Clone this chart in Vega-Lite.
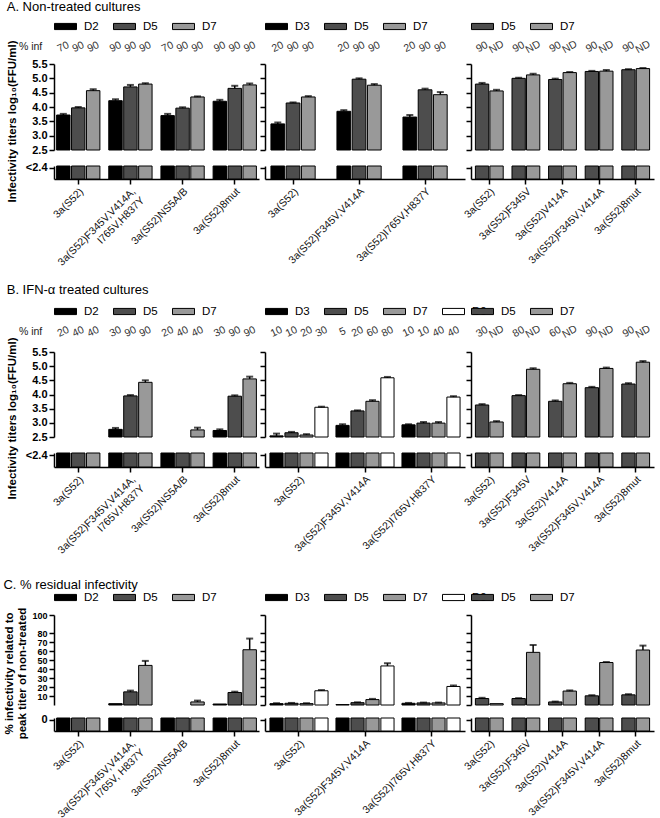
{
 "$schema": "https://vega.github.io/schema/vega-lite/v6.json",
 "padding": {"left": 3, "top": 1, "right": 2, "bottom": 0},
 "columns": 3,
 "bounds": "flush",
 "spacing": {"row": 148, "column": 6},
 "resolve": {"scale": {"fill": "independent", "x": "independent", "y": "independent", "xOffset": "independent"}, "legend": {"fill": "independent"}},
 "config": {
  "font": "Liberation Sans",
  "view": {"stroke": null},
  "axis": {"domainColor": "#000", "domainWidth": 1.5, "tickColor": "#000", "tickWidth": 1.5, "tickSize": 5, "labelColor": "#000", "titleColor": "#000", "grid": false, "labelPadding": 2},
  "axisX": {"labelFontSize": 10.5, "labelAngle": -45, "labelOverlap": false, "title": null, "labelColor": "#111", "labelPadding": 2},
  "axisY": {"labelFontWeight": "bold", "labelFontSize": 11, "titleFontWeight": "bold", "titleFontSize": 11.5, "labelOverlap": false},
  "legend": {"orient": "top", "direction": "horizontal", "title": null, "symbolType": "M-1,-0.28L1,-0.28L1,0.28L-1,0.28Z", "symbolSize": 484, "symbolStrokeColor": "#000", "symbolStrokeWidth": 1, "symbolOpacity": 1, "labelFontSize": 11.5, "labelOffset": 7, "columnPadding": 12, "offset": 8, "padding": 0},
  "title": {"anchor": "start", "frame": "bounds", "fontSize": 13, "fontWeight": "normal", "offset": 1, "color": "#000"}
 },
 "concat": [
  {
   "width": 205, "height": 140,
   "title": {"text": "A. Non-treated cultures"},
   "data": {"values": [
    {"g": "3a(S52)", "d": "D2", "v": 3.72, "hi": 3.76, "pct": "70"},
    {"g": "3a(S52)", "d": "D5", "v": 3.97, "hi": 4.0, "pct": "90"},
    {"g": "3a(S52)", "d": "D7", "v": 4.57, "hi": 4.62, "pct": "90"},
    {"g": "3a(S52)F345V,V414A,I765V,H837Y", "d": "D2", "v": 4.22, "hi": 4.27, "pct": "90"},
    {"g": "3a(S52)F345V,V414A,I765V,H837Y", "d": "D5", "v": 4.7, "hi": 4.77, "pct": "90"},
    {"g": "3a(S52)F345V,V414A,I765V,H837Y", "d": "D7", "v": 4.8, "hi": 4.83, "pct": "90"},
    {"g": "3a(S52)NS5A/B", "d": "D2", "v": 3.7, "hi": 3.76, "pct": "70"},
    {"g": "3a(S52)NS5A/B", "d": "D5", "v": 3.96, "hi": 3.99, "pct": "90"},
    {"g": "3a(S52)NS5A/B", "d": "D7", "v": 4.35, "hi": 4.37, "pct": "90"},
    {"g": "3a(S52)8mut", "d": "D2", "v": 4.2, "hi": 4.25, "pct": "90"},
    {"g": "3a(S52)8mut", "d": "D5", "v": 4.65, "hi": 4.74, "pct": "90"},
    {"g": "3a(S52)8mut", "d": "D7", "v": 4.77, "hi": 4.82, "pct": "90"}
   ]},
   "encoding": {
    "x": {"field": "g", "type": "nominal", "scale": {"domain": ["3a(S52)", "3a(S52)F345V,V414A,I765V,H837Y", "3a(S52)NS5A/B", "3a(S52)8mut"], "paddingInner": 0.17, "paddingOuter": 0.05}, "axis": {"labelExpr": "datum.value == '3a(S52)F345V,V414A,I765V,H837Y' ? ['3a(S52)F345V,V414A,', 'I765V,H837Y'] : datum.label"}},
    "xOffset": {"field": "d", "type": "nominal", "scale": {"domain": ["D2", "D5", "D7"], "paddingInner": 0.1}}
   },
   "layer": [
    {"layer": [
     {"transform": [{"filter": "datum.v != null"}], "mark": {"type": "bar", "stroke": "#000", "strokeWidth": 1},
      "encoding": {"y": {"field": "v", "type": "quantitative", "scale": {"domain": [2.5, 5.5], "range": [111, 25], "nice": false, "zero": false}, "axis": {"values": [2.5, 3, 3.5, 4, 4.5, 5, 5.5], "tickCount": 20, "format": ".1f", "labelOverlap": false, "title": "Infectivity titers log₁₀(FFU/ml)", "titleY": 82, "titlePadding": 14}}, "y2": {"datum": 2.5},
       "fill": {"field": "d", "type": "nominal", "scale": {"domain": ["D2", "D5", "D7"], "range": ["#000000", "#4d4d4d", "#999999"]}, "legend": {"offset": 7}}}},
     {"transform": [{"filter": "datum.hi != null"}], "mark": {"type": "rule", "color": "#000", "strokeWidth": 1.5}, "encoding": {"y": {"field": "v", "type": "quantitative"}, "y2": {"field": "hi"}}},
     {"transform": [{"filter": "datum.hi != null"}], "mark": {"type": "tick", "color": "#000", "thickness": 2, "size": 7}, "encoding": {"y": {"field": "hi", "type": "quantitative"}}},
     {"mark": {"type": "text", "angle": -25, "fontSize": 10.5, "color": "#333"}, "encoding": {"y": {"datum": 6.09, "type": "quantitative"}, "text": {"field": "pct"}}},
     {"data": {"values": [{"t": "% inf"}]}, "mark": {"type": "text", "align": "right", "dx": -36, "fontSize": 10.5, "color": "#222"}, "encoding": {"x": {"datum": "3a(S52)"}, "xOffset": {"datum": "D5"}, "y": {"datum": 6.09, "type": "quantitative"}, "text": {"field": "t"}}}
    ]},
    {"mark": {"type": "bar", "stroke": "#000", "strokeWidth": 1},
     "encoding": {"y": {"datum": 1, "type": "quantitative", "scale": {"domain": [0, 1], "range": [140, 127]}, "axis": {"values": [0.85], "labelExpr": "'<2.4'", "title": null, "orient": "left"}}, "y2": {"datum": 0},
      "fill": {"field": "d", "type": "nominal", "scale": {"domain": ["D2", "D5", "D7"], "range": ["#000000", "#4d4d4d", "#999999"]}, "legend": {"offset": 7}}}}
   ],
   "resolve": {"scale": {"y": "independent"}, "axis": {"y": "independent"}}
  },
  {
   "width": 200, "height": 140,
   "data": {"values": [
    {"g": "3a(S52)", "d": "D3", "v": 3.41, "hi": 3.46, "pct": "20"},
    {"g": "3a(S52)", "d": "D5", "v": 4.14, "hi": 4.16, "pct": "90"},
    {"g": "3a(S52)", "d": "D7", "v": 4.35, "hi": 4.38, "pct": "90"},
    {"g": "3a(S52)F345V,V414A", "d": "D3", "v": 3.85, "hi": 3.89, "pct": "20"},
    {"g": "3a(S52)F345V,V414A", "d": "D5", "v": 4.97, "hi": 5.0, "pct": "90"},
    {"g": "3a(S52)F345V,V414A", "d": "D7", "v": 4.76, "hi": 4.8, "pct": "90"},
    {"g": "3a(S52)I765V,H837Y", "d": "D3", "v": 3.65, "hi": 3.72, "pct": "20"},
    {"g": "3a(S52)I765V,H837Y", "d": "D5", "v": 4.6, "hi": 4.64, "pct": "90"},
    {"g": "3a(S52)I765V,H837Y", "d": "D7", "v": 4.43, "hi": 4.52, "pct": "90"}
   ]},
   "encoding": {
    "x": {"field": "g", "type": "nominal", "scale": {"domain": ["3a(S52)", "3a(S52)F345V,V414A", "3a(S52)I765V,H837Y"], "paddingInner": 0.33, "paddingOuter": 0.18, "align": 0.25}},
    "xOffset": {"field": "d", "type": "nominal", "scale": {"domain": ["D3", "D5", "D7"], "paddingInner": 0.1}}
   },
   "layer": [
    {"layer": [
     {"transform": [{"filter": "datum.v != null"}], "mark": {"type": "bar", "stroke": "#000", "strokeWidth": 1},
      "encoding": {"y": {"field": "v", "type": "quantitative", "scale": {"domain": [2.5, 5.5], "range": [111, 25], "nice": false, "zero": false}, "axis": {"values": [2.5, 3, 3.5, 4, 4.5, 5, 5.5], "tickCount": 20, "labels": false, "title": null}}, "y2": {"datum": 2.5},
       "fill": {"field": "d", "type": "nominal", "scale": {"domain": ["D3", "D5", "D7"], "range": ["#000000", "#4d4d4d", "#999999"]}, "legend": {"offset": 7}}}},
     {"transform": [{"filter": "datum.hi != null"}], "mark": {"type": "rule", "color": "#000", "strokeWidth": 1.5}, "encoding": {"y": {"field": "v", "type": "quantitative"}, "y2": {"field": "hi"}}},
     {"transform": [{"filter": "datum.hi != null"}], "mark": {"type": "tick", "color": "#000", "thickness": 2, "size": 7}, "encoding": {"y": {"field": "hi", "type": "quantitative"}}},
     {"mark": {"type": "text", "angle": -25, "fontSize": 10.5, "color": "#333"}, "encoding": {"y": {"datum": 6.09, "type": "quantitative"}, "text": {"field": "pct"}}}
    ]},
    {"mark": {"type": "bar", "stroke": "#000", "strokeWidth": 1},
     "encoding": {"y": {"datum": 1, "type": "quantitative", "scale": {"domain": [0, 1], "range": [140, 127]}, "axis": {"values": [0.85], "labels": false, "title": null, "orient": "left"}}, "y2": {"datum": 0},
      "fill": {"field": "d", "type": "nominal", "scale": {"domain": ["D3", "D5", "D7"], "range": ["#000000", "#4d4d4d", "#999999"]}, "legend": {"offset": 7}}}}
   ],
   "resolve": {"scale": {"y": "independent"}, "axis": {"y": "independent"}}
  },
  {
   "width": 183, "height": 140,
   "data": {"values": [
    {"g": "3a(S52)", "d": "D5", "v": 4.8, "hi": 4.84, "pct": "90"},
    {"g": "3a(S52)", "d": "D7", "v": 4.56, "hi": 4.6, "pct": "ND"},
    {"g": "3a(S52)F345V", "d": "D5", "v": 5.0, "hi": 5.02, "pct": "90"},
    {"g": "3a(S52)F345V", "d": "D7", "v": 5.12, "hi": 5.16, "pct": "ND"},
    {"g": "3a(S52)V414A", "d": "D5", "v": 4.96, "hi": 4.99, "pct": "90"},
    {"g": "3a(S52)V414A", "d": "D7", "v": 5.2, "hi": 5.22, "pct": "ND"},
    {"g": "3a(S52)F345V,V414A", "d": "D5", "v": 5.24, "hi": 5.26, "pct": "90"},
    {"g": "3a(S52)F345V,V414A", "d": "D7", "v": 5.25, "hi": 5.29, "pct": "ND"},
    {"g": "3a(S52)8mut", "d": "D5", "v": 5.3, "hi": 5.32, "pct": "90"},
    {"g": "3a(S52)8mut", "d": "D7", "v": 5.34, "hi": 5.36, "pct": "ND"}
   ]},
   "encoding": {
    "x": {"field": "g", "type": "nominal", "scale": {"domain": ["3a(S52)", "3a(S52)F345V", "3a(S52)V414A", "3a(S52)F345V,V414A", "3a(S52)8mut"], "paddingInner": 0.24, "paddingOuter": 0.12}},
    "xOffset": {"field": "d", "type": "nominal", "scale": {"domain": ["D5", "D7"], "paddingInner": 0.08}}
   },
   "layer": [
    {"layer": [
     {"transform": [{"filter": "datum.v != null"}], "mark": {"type": "bar", "stroke": "#000", "strokeWidth": 1},
      "encoding": {"y": {"field": "v", "type": "quantitative", "scale": {"domain": [2.5, 5.5], "range": [111, 25], "nice": false, "zero": false}, "axis": {"values": [2.5, 3, 3.5, 4, 4.5, 5, 5.5], "tickCount": 20, "labels": false, "title": null}}, "y2": {"datum": 2.5},
       "fill": {"field": "d", "type": "nominal", "scale": {"domain": ["D5", "D7"], "range": ["#4d4d4d", "#999999"]}, "legend": {"offset": 7}}}},
     {"transform": [{"filter": "datum.hi != null"}], "mark": {"type": "rule", "color": "#000", "strokeWidth": 1.5}, "encoding": {"y": {"field": "v", "type": "quantitative"}, "y2": {"field": "hi"}}},
     {"transform": [{"filter": "datum.hi != null"}], "mark": {"type": "tick", "color": "#000", "thickness": 2, "size": 7}, "encoding": {"y": {"field": "hi", "type": "quantitative"}}},
     {"mark": {"type": "text", "angle": -30, "fontSize": 10.5, "color": "#333"}, "encoding": {"y": {"datum": 6.09, "type": "quantitative"}, "text": {"field": "pct"}}}
    ]},
    {"mark": {"type": "bar", "stroke": "#000", "strokeWidth": 1},
     "encoding": {"y": {"datum": 1, "type": "quantitative", "scale": {"domain": [0, 1], "range": [140, 127]}, "axis": {"values": [0.85], "labels": false, "title": null, "orient": "left"}}, "y2": {"datum": 0},
      "fill": {"field": "d", "type": "nominal", "scale": {"domain": ["D5", "D7"], "range": ["#4d4d4d", "#999999"]}, "legend": {"offset": 7}}}}
   ],
   "resolve": {"scale": {"y": "independent"}, "axis": {"y": "independent"}}
  },
  {
   "width": 205, "height": 140,
   "title": {"text": "B. IFN-α treated cultures", "offset": 3},
   "data": {"values": [
    {"g": "3a(S52)", "d": "D2", "v": null, "hi": null, "pct": "20"},
    {"g": "3a(S52)", "d": "D5", "v": null, "hi": null, "pct": "40"},
    {"g": "3a(S52)", "d": "D7", "v": null, "hi": null, "pct": "40"},
    {"g": "3a(S52)F345V,V414A,I765V,H837Y", "d": "D2", "v": 2.77, "hi": 2.82, "pct": "30"},
    {"g": "3a(S52)F345V,V414A,I765V,H837Y", "d": "D5", "v": 3.95, "hi": 3.98, "pct": "90"},
    {"g": "3a(S52)F345V,V414A,I765V,H837Y", "d": "D7", "v": 4.43, "hi": 4.5, "pct": "90"},
    {"g": "3a(S52)NS5A/B", "d": "D2", "v": null, "hi": null, "pct": "20"},
    {"g": "3a(S52)NS5A/B", "d": "D5", "v": null, "hi": null, "pct": "40"},
    {"g": "3a(S52)NS5A/B", "d": "D7", "v": 2.75, "hi": 2.83, "pct": "40"},
    {"g": "3a(S52)8mut", "d": "D2", "v": 2.73, "hi": 2.77, "pct": "30"},
    {"g": "3a(S52)8mut", "d": "D5", "v": 3.94, "hi": 3.97, "pct": "90"},
    {"g": "3a(S52)8mut", "d": "D7", "v": 4.55, "hi": 4.63, "pct": "90"}
   ]},
   "encoding": {
    "x": {"field": "g", "type": "nominal", "scale": {"domain": ["3a(S52)", "3a(S52)F345V,V414A,I765V,H837Y", "3a(S52)NS5A/B", "3a(S52)8mut"], "paddingInner": 0.17, "paddingOuter": 0.05}, "axis": {"labelExpr": "datum.value == '3a(S52)F345V,V414A,I765V,H837Y' ? ['3a(S52)F345V,V414A,', 'I765V,H837Y'] : datum.label"}},
    "xOffset": {"field": "d", "type": "nominal", "scale": {"domain": ["D2", "D5", "D7"], "paddingInner": 0.1}}
   },
   "layer": [
    {"layer": [
     {"transform": [{"filter": "datum.v != null"}], "mark": {"type": "bar", "stroke": "#000", "strokeWidth": 1},
      "encoding": {"y": {"field": "v", "type": "quantitative", "scale": {"domain": [2.5, 5.5], "range": [110, 25], "nice": false, "zero": false}, "axis": {"values": [2.5, 3, 3.5, 4, 4.5, 5, 5.5], "tickCount": 20, "format": ".1f", "labelOverlap": false, "title": "Infectivity titers log₁₀(FFU/ml)", "titleY": 91, "titlePadding": 14}}, "y2": {"datum": 2.5},
       "fill": {"field": "d", "type": "nominal", "scale": {"domain": ["D2", "D5", "D7"], "range": ["#000000", "#4d4d4d", "#999999"]}, "legend": {"offset": 10}}}},
     {"transform": [{"filter": "datum.hi != null"}], "mark": {"type": "rule", "color": "#000", "strokeWidth": 1.5}, "encoding": {"y": {"field": "v", "type": "quantitative"}, "y2": {"field": "hi"}}},
     {"transform": [{"filter": "datum.hi != null"}], "mark": {"type": "tick", "color": "#000", "thickness": 2, "size": 7}, "encoding": {"y": {"field": "hi", "type": "quantitative"}}},
     {"mark": {"type": "text", "angle": -25, "fontSize": 10.5, "color": "#333"}, "encoding": {"y": {"datum": 6.21, "type": "quantitative"}, "text": {"field": "pct"}}},
     {"data": {"values": [{"t": "% inf"}]}, "mark": {"type": "text", "align": "right", "dx": -36, "fontSize": 10.5, "color": "#222"}, "encoding": {"x": {"datum": "3a(S52)"}, "xOffset": {"datum": "D5"}, "y": {"datum": 6.21, "type": "quantitative"}, "text": {"field": "t"}}}
    ]},
    {"mark": {"type": "bar", "stroke": "#000", "strokeWidth": 1},
     "encoding": {"y": {"datum": 1, "type": "quantitative", "scale": {"domain": [0, 1], "range": [140, 126]}, "axis": {"values": [0.85], "labelExpr": "'<2.4'", "title": null, "orient": "left"}}, "y2": {"datum": 0},
      "fill": {"field": "d", "type": "nominal", "scale": {"domain": ["D2", "D5", "D7"], "range": ["#000000", "#4d4d4d", "#999999"]}, "legend": {"offset": 10}}}}
   ],
   "resolve": {"scale": {"y": "independent"}, "axis": {"y": "independent"}}
  },
  {
   "width": 200, "height": 140,
   "data": {"values": [
    {"g": "3a(S52)", "d": "D3", "v": 2.54, "hi": 2.62, "pct": "10"},
    {"g": "3a(S52)", "d": "D5", "v": 2.65, "hi": 2.68, "pct": "10"},
    {"g": "3a(S52)", "d": "D7", "v": 2.57, "hi": 2.6, "pct": "20"},
    {"g": "3a(S52)", "d": "D9", "v": 3.55, "hi": 3.57, "pct": "30"},
    {"g": "3a(S52)F345V,V414A", "d": "D3", "v": 2.91, "hi": 2.95, "pct": "5"},
    {"g": "3a(S52)F345V,V414A", "d": "D5", "v": 3.42, "hi": 3.44, "pct": "20"},
    {"g": "3a(S52)F345V,V414A", "d": "D7", "v": 3.76, "hi": 3.8, "pct": "60"},
    {"g": "3a(S52)F345V,V414A", "d": "D9", "v": 4.59, "hi": 4.62, "pct": "80"},
    {"g": "3a(S52)I765V,H837Y", "d": "D3", "v": 2.93, "hi": 2.95, "pct": "10"},
    {"g": "3a(S52)I765V,H837Y", "d": "D5", "v": 2.99, "hi": 3.03, "pct": "10"},
    {"g": "3a(S52)I765V,H837Y", "d": "D7", "v": 2.99, "hi": 3.03, "pct": "40"},
    {"g": "3a(S52)I765V,H837Y", "d": "D9", "v": 3.91, "hi": 3.94, "pct": "40"}
   ]},
   "encoding": {
    "x": {"field": "g", "type": "nominal", "scale": {"domain": ["3a(S52)", "3a(S52)F345V,V414A", "3a(S52)I765V,H837Y"], "paddingInner": 0.12, "paddingOuter": 0.075, "align": 0.5}},
    "xOffset": {"field": "d", "type": "nominal", "scale": {"domain": ["D3", "D5", "D7", "D9"], "paddingInner": 0.12}}
   },
   "layer": [
    {"layer": [
     {"transform": [{"filter": "datum.v != null"}], "mark": {"type": "bar", "stroke": "#000", "strokeWidth": 1},
      "encoding": {"y": {"field": "v", "type": "quantitative", "scale": {"domain": [2.5, 5.5], "range": [110, 25], "nice": false, "zero": false}, "axis": {"values": [2.5, 3, 3.5, 4, 4.5, 5, 5.5], "tickCount": 20, "labels": false, "title": null}}, "y2": {"datum": 2.5},
       "fill": {"field": "d", "type": "nominal", "scale": {"domain": ["D3", "D5", "D7", "D9"], "range": ["#000000", "#4d4d4d", "#999999", "#ffffff"]}, "legend": {"offset": 10}}}},
     {"transform": [{"filter": "datum.hi != null"}], "mark": {"type": "rule", "color": "#000", "strokeWidth": 1.5}, "encoding": {"y": {"field": "v", "type": "quantitative"}, "y2": {"field": "hi"}}},
     {"transform": [{"filter": "datum.hi != null"}], "mark": {"type": "tick", "color": "#000", "thickness": 2, "size": 7}, "encoding": {"y": {"field": "hi", "type": "quantitative"}}},
     {"mark": {"type": "text", "angle": -25, "fontSize": 10.5, "color": "#333"}, "encoding": {"y": {"datum": 6.21, "type": "quantitative"}, "text": {"field": "pct"}}}
    ]},
    {"mark": {"type": "bar", "stroke": "#000", "strokeWidth": 1},
     "encoding": {"y": {"datum": 1, "type": "quantitative", "scale": {"domain": [0, 1], "range": [140, 126]}, "axis": {"values": [0.85], "labels": false, "title": null, "orient": "left"}}, "y2": {"datum": 0},
      "fill": {"field": "d", "type": "nominal", "scale": {"domain": ["D3", "D5", "D7", "D9"], "range": ["#000000", "#4d4d4d", "#999999", "#ffffff"]}, "legend": {"offset": 10}}}}
   ],
   "resolve": {"scale": {"y": "independent"}, "axis": {"y": "independent"}}
  },
  {
   "width": 183, "height": 140,
   "data": {"values": [
    {"g": "3a(S52)", "d": "D5", "v": 3.63, "hi": 3.66, "pct": "30"},
    {"g": "3a(S52)", "d": "D7", "v": 3.03, "hi": 3.06, "pct": "ND"},
    {"g": "3a(S52)F345V", "d": "D5", "v": 3.96, "hi": 3.98, "pct": "80"},
    {"g": "3a(S52)F345V", "d": "D7", "v": 4.89, "hi": 4.93, "pct": "ND"},
    {"g": "3a(S52)V414A", "d": "D5", "v": 3.76, "hi": 3.79, "pct": "60"},
    {"g": "3a(S52)V414A", "d": "D7", "v": 4.38, "hi": 4.41, "pct": "ND"},
    {"g": "3a(S52)F345V,V414A", "d": "D5", "v": 4.24, "hi": 4.27, "pct": "90"},
    {"g": "3a(S52)F345V,V414A", "d": "D7", "v": 4.92, "hi": 4.95, "pct": "ND"},
    {"g": "3a(S52)8mut", "d": "D5", "v": 4.37, "hi": 4.4, "pct": "90"},
    {"g": "3a(S52)8mut", "d": "D7", "v": 5.14, "hi": 5.18, "pct": "ND"}
   ]},
   "encoding": {
    "x": {"field": "g", "type": "nominal", "scale": {"domain": ["3a(S52)", "3a(S52)F345V", "3a(S52)V414A", "3a(S52)F345V,V414A", "3a(S52)8mut"], "paddingInner": 0.24, "paddingOuter": 0.12}},
    "xOffset": {"field": "d", "type": "nominal", "scale": {"domain": ["D5", "D7"], "paddingInner": 0.08}}
   },
   "layer": [
    {"layer": [
     {"transform": [{"filter": "datum.v != null"}], "mark": {"type": "bar", "stroke": "#000", "strokeWidth": 1},
      "encoding": {"y": {"field": "v", "type": "quantitative", "scale": {"domain": [2.5, 5.5], "range": [110, 25], "nice": false, "zero": false}, "axis": {"values": [2.5, 3, 3.5, 4, 4.5, 5, 5.5], "tickCount": 20, "labels": false, "title": null}}, "y2": {"datum": 2.5},
       "fill": {"field": "d", "type": "nominal", "scale": {"domain": ["D5", "D7"], "range": ["#4d4d4d", "#999999"]}, "legend": {"offset": 10}}}},
     {"transform": [{"filter": "datum.hi != null"}], "mark": {"type": "rule", "color": "#000", "strokeWidth": 1.5}, "encoding": {"y": {"field": "v", "type": "quantitative"}, "y2": {"field": "hi"}}},
     {"transform": [{"filter": "datum.hi != null"}], "mark": {"type": "tick", "color": "#000", "thickness": 2, "size": 7}, "encoding": {"y": {"field": "hi", "type": "quantitative"}}},
     {"mark": {"type": "text", "angle": -30, "fontSize": 10.5, "color": "#333"}, "encoding": {"y": {"datum": 6.21, "type": "quantitative"}, "text": {"field": "pct"}}}
    ]},
    {"mark": {"type": "bar", "stroke": "#000", "strokeWidth": 1},
     "encoding": {"y": {"datum": 1, "type": "quantitative", "scale": {"domain": [0, 1], "range": [140, 126]}, "axis": {"values": [0.85], "labels": false, "title": null, "orient": "left"}}, "y2": {"datum": 0},
      "fill": {"field": "d", "type": "nominal", "scale": {"domain": ["D5", "D7"], "range": ["#4d4d4d", "#999999"]}, "legend": {"offset": 10}}}}
   ],
   "resolve": {"scale": {"y": "independent"}, "axis": {"y": "independent"}}
  },
  {
   "width": 205, "height": 116,
   "title": {"text": "C. % residual infectivity", "offset": -6},
   "data": {"values": [
    {"g": "3a(S52)", "d": "D2", "v": null, "hi": null},
    {"g": "3a(S52)", "d": "D5", "v": null, "hi": null},
    {"g": "3a(S52)", "d": "D7", "v": null, "hi": null},
    {"g": "3a(S52)F345V,V414A,I765V,H837Y", "d": "D2", "v": 1.5, "hi": null},
    {"g": "3a(S52)F345V,V414A,I765V,H837Y", "d": "D5", "v": 14.6, "hi": 16},
    {"g": "3a(S52)F345V,V414A,I765V,H837Y", "d": "D7", "v": 44, "hi": 49},
    {"g": "3a(S52)NS5A/B", "d": "D2", "v": null, "hi": null},
    {"g": "3a(S52)NS5A/B", "d": "D5", "v": null, "hi": null},
    {"g": "3a(S52)NS5A/B", "d": "D7", "v": 3.4, "hi": 4.9},
    {"g": "3a(S52)8mut", "d": "D2", "v": 1.1, "hi": null},
    {"g": "3a(S52)8mut", "d": "D5", "v": 13.9, "hi": 14.8},
    {"g": "3a(S52)8mut", "d": "D7", "v": 61.4, "hi": 73.8}
   ]},
   "encoding": {
    "x": {"field": "g", "type": "nominal", "scale": {"domain": ["3a(S52)", "3a(S52)F345V,V414A,I765V,H837Y", "3a(S52)NS5A/B", "3a(S52)8mut"], "paddingInner": 0.17, "paddingOuter": 0.05}, "axis": {"labelExpr": "datum.value == '3a(S52)F345V,V414A,I765V,H837Y' ? ['3a(S52)F345V,V414A,', 'I765V, H837Y'] : datum.label"}},
    "xOffset": {"field": "d", "type": "nominal", "scale": {"domain": ["D2", "D5", "D7"], "paddingInner": 0.1}}
   },
   "layer": [
    {"layer": [
     {"transform": [{"filter": "datum.v != null"}], "mark": {"type": "bar", "stroke": "#000", "strokeWidth": 1},
      "encoding": {"y": {"field": "v", "type": "quantitative", "scale": {"domain": [0, 100], "range": [90, 0], "nice": false, "zero": false}, "axis": {"values": [10, 20, 30, 40, 50, 60, 70, 80, 100], "tickCount": 20, "labelOverlap": false, "labelFontSize": 9, "title": ["% infectivity related to", "peak titer of non-treated"], "titleY": 58, "titlePadding": 4}}, "y2": {"datum": 0},
       "fill": {"field": "d", "type": "nominal", "scale": {"domain": ["D2", "D5", "D7"], "range": ["#000000", "#4d4d4d", "#999999"]}, "legend": {"offset": 12}}}},
     {"transform": [{"filter": "datum.hi != null"}], "mark": {"type": "rule", "color": "#000", "strokeWidth": 1.5}, "encoding": {"y": {"field": "v", "type": "quantitative"}, "y2": {"field": "hi"}}},
     {"transform": [{"filter": "datum.hi != null"}], "mark": {"type": "tick", "color": "#000", "thickness": 2, "size": 7}, "encoding": {"y": {"field": "hi", "type": "quantitative"}}}
    ]},
    {"mark": {"type": "bar", "stroke": "#000", "strokeWidth": 1},
     "encoding": {"y": {"datum": 1, "type": "quantitative", "scale": {"domain": [0, 1], "range": [116, 103]}, "axis": {"values": [0.85], "labelExpr": "'0'", "title": null, "orient": "left"}}, "y2": {"datum": 0},
      "fill": {"field": "d", "type": "nominal", "scale": {"domain": ["D2", "D5", "D7"], "range": ["#000000", "#4d4d4d", "#999999"]}, "legend": {"offset": 12}}}}
   ],
   "resolve": {"scale": {"y": "independent"}, "axis": {"y": "independent"}}
  },
  {
   "width": 200, "height": 116,
   "data": {"values": [
    {"g": "3a(S52)", "d": "D3", "v": 1.5, "hi": 2},
    {"g": "3a(S52)", "d": "D5", "v": 1.9, "hi": 2.3},
    {"g": "3a(S52)", "d": "D7", "v": 1.5, "hi": 2},
    {"g": "3a(S52)", "d": "D9", "v": 15.8, "hi": 16.6},
    {"g": "3a(S52)F345V,V414A", "d": "D3", "v": 0.5, "hi": null},
    {"g": "3a(S52)F345V,V414A", "d": "D5", "v": 2.6, "hi": 3},
    {"g": "3a(S52)F345V,V414A", "d": "D7", "v": 6, "hi": 6.8},
    {"g": "3a(S52)F345V,V414A", "d": "D9", "v": 43.4, "hi": 46.4},
    {"g": "3a(S52)I765V,H837Y", "d": "D3", "v": 1.9, "hi": 2.3},
    {"g": "3a(S52)I765V,H837Y", "d": "D5", "v": 2.3, "hi": 2.7},
    {"g": "3a(S52)I765V,H837Y", "d": "D7", "v": 2.3, "hi": 2.7},
    {"g": "3a(S52)I765V,H837Y", "d": "D9", "v": 20.6, "hi": 21.7}
   ]},
   "encoding": {
    "x": {"field": "g", "type": "nominal", "scale": {"domain": ["3a(S52)", "3a(S52)F345V,V414A", "3a(S52)I765V,H837Y"], "paddingInner": 0.12, "paddingOuter": 0.075, "align": 0.5}},
    "xOffset": {"field": "d", "type": "nominal", "scale": {"domain": ["D3", "D5", "D7", "D9"], "paddingInner": 0.12}}
   },
   "layer": [
    {"layer": [
     {"transform": [{"filter": "datum.v != null"}], "mark": {"type": "bar", "stroke": "#000", "strokeWidth": 1},
      "encoding": {"y": {"field": "v", "type": "quantitative", "scale": {"domain": [0, 100], "range": [90, 0], "nice": false, "zero": false}, "axis": {"values": [0, 10, 20, 30, 40, 50, 60, 70, 80, 100], "tickCount": 20, "labels": false, "title": null}}, "y2": {"datum": 0},
       "fill": {"field": "d", "type": "nominal", "scale": {"domain": ["D3", "D5", "D7", "D9"], "range": ["#000000", "#4d4d4d", "#999999", "#ffffff"]}, "legend": {"offset": 12}}}},
     {"transform": [{"filter": "datum.hi != null"}], "mark": {"type": "rule", "color": "#000", "strokeWidth": 1.5}, "encoding": {"y": {"field": "v", "type": "quantitative"}, "y2": {"field": "hi"}}},
     {"transform": [{"filter": "datum.hi != null"}], "mark": {"type": "tick", "color": "#000", "thickness": 2, "size": 7}, "encoding": {"y": {"field": "hi", "type": "quantitative"}}}
    ]},
    {"mark": {"type": "bar", "stroke": "#000", "strokeWidth": 1},
     "encoding": {"y": {"datum": 1, "type": "quantitative", "scale": {"domain": [0, 1], "range": [116, 103]}, "axis": {"values": [0.85], "labels": false, "title": null, "orient": "left"}}, "y2": {"datum": 0},
      "fill": {"field": "d", "type": "nominal", "scale": {"domain": ["D3", "D5", "D7", "D9"], "range": ["#000000", "#4d4d4d", "#999999", "#ffffff"]}, "legend": {"offset": 12}}}}
   ],
   "resolve": {"scale": {"y": "independent"}, "axis": {"y": "independent"}}
  },
  {
   "width": 183, "height": 116,
   "data": {"values": [
    {"g": "3a(S52)", "d": "D5", "v": 7.2, "hi": 8},
    {"g": "3a(S52)", "d": "D7", "v": 1.5, "hi": null},
    {"g": "3a(S52)F345V", "d": "D5", "v": 7.2, "hi": 7.6},
    {"g": "3a(S52)F345V", "d": "D7", "v": 58.5, "hi": 66.8},
    {"g": "3a(S52)V414A", "d": "D5", "v": 3.4, "hi": 3.8},
    {"g": "3a(S52)V414A", "d": "D7", "v": 15.5, "hi": 16.2},
    {"g": "3a(S52)F345V,V414A", "d": "D5", "v": 10.2, "hi": 10.9},
    {"g": "3a(S52)F345V,V414A", "d": "D7", "v": 47.2, "hi": 47.8},
    {"g": "3a(S52)8mut", "d": "D5", "v": 11.3, "hi": 12},
    {"g": "3a(S52)8mut", "d": "D7", "v": 61.1, "hi": 66}
   ]},
   "encoding": {
    "x": {"field": "g", "type": "nominal", "scale": {"domain": ["3a(S52)", "3a(S52)F345V", "3a(S52)V414A", "3a(S52)F345V,V414A", "3a(S52)8mut"], "paddingInner": 0.24, "paddingOuter": 0.12}},
    "xOffset": {"field": "d", "type": "nominal", "scale": {"domain": ["D5", "D7"], "paddingInner": 0.08}}
   },
   "layer": [
    {"layer": [
     {"transform": [{"filter": "datum.v != null"}], "mark": {"type": "bar", "stroke": "#000", "strokeWidth": 1},
      "encoding": {"y": {"field": "v", "type": "quantitative", "scale": {"domain": [0, 100], "range": [90, 0], "nice": false, "zero": false}, "axis": {"values": [0, 10, 20, 30, 40, 50, 60, 70, 80, 100], "tickCount": 20, "labels": false, "title": null}}, "y2": {"datum": 0},
       "fill": {"field": "d", "type": "nominal", "scale": {"domain": ["D5", "D7"], "range": ["#4d4d4d", "#999999"]}, "legend": {"offset": 12}}}},
     {"transform": [{"filter": "datum.hi != null"}], "mark": {"type": "rule", "color": "#000", "strokeWidth": 1.5}, "encoding": {"y": {"field": "v", "type": "quantitative"}, "y2": {"field": "hi"}}},
     {"transform": [{"filter": "datum.hi != null"}], "mark": {"type": "tick", "color": "#000", "thickness": 2, "size": 7}, "encoding": {"y": {"field": "hi", "type": "quantitative"}}}
    ]},
    {"mark": {"type": "bar", "stroke": "#000", "strokeWidth": 1},
     "encoding": {"y": {"datum": 1, "type": "quantitative", "scale": {"domain": [0, 1], "range": [116, 103]}, "axis": {"values": [0.85], "labels": false, "title": null, "orient": "left"}}, "y2": {"datum": 0},
      "fill": {"field": "d", "type": "nominal", "scale": {"domain": ["D5", "D7"], "range": ["#4d4d4d", "#999999"]}, "legend": {"offset": 12}}}}
   ],
   "resolve": {"scale": {"y": "independent"}, "axis": {"y": "independent"}}
  }
 ]
}
